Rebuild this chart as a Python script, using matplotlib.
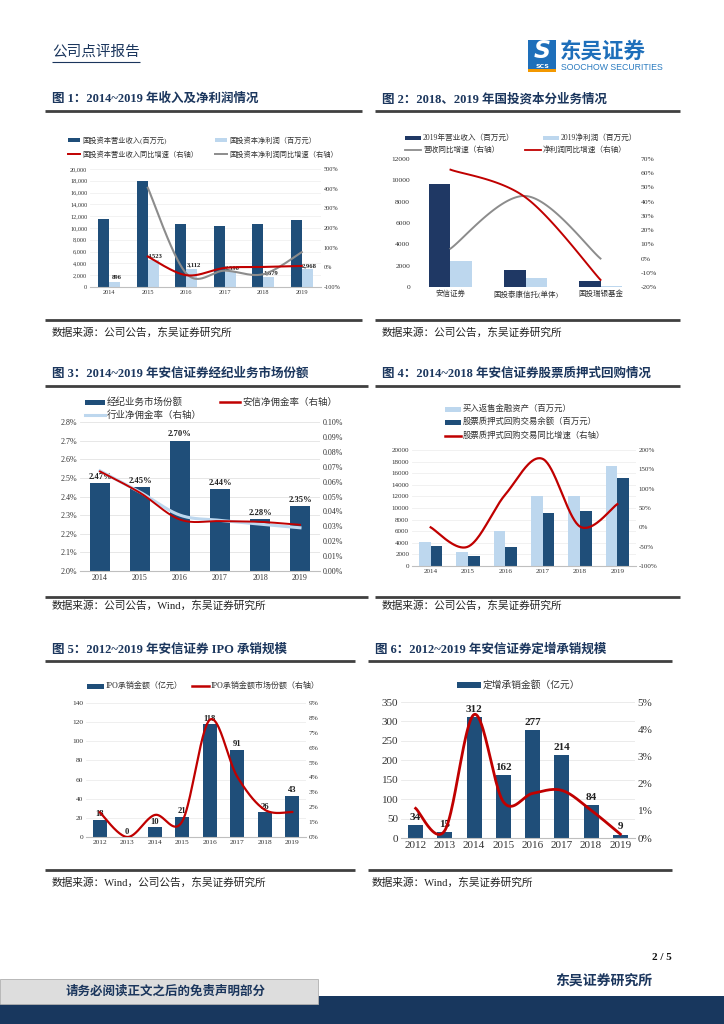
import numpy as np
import matplotlib
matplotlib.use("Agg")
import matplotlib.pyplot as plt
from matplotlib.patches import Rectangle
from matplotlib.lines import Line2D
from matplotlib.ticker import FuncFormatter

plt.rcParams['font.family'] = ['Liberation Serif', 'Noto Sans CJK SC', 'DejaVu Sans']
plt.rcParams['axes.unicode_minus'] = False

# ---------------- data ----------------
years_14_19 = ['2014', '2015', '2016', '2017', '2018', '2019']
years_12_19 = ['2012', '2013', '2014', '2015', '2016', '2017', '2018', '2019']

# Fig 1
rev1 = [11600, 17950, 10700, 10400, 10600, 11300]
np1 = [896, 4523, 3112, 2590, 1679, 2968]
rev1_growth = [None, 55, -40, -3, 2, 7]
np1_growth = [None, 405, -31, -17, -35, 77]

# Fig 2
cats2 = ['安信证券', '国投泰康信托(单体)', '国投瑞银基金']
rev2 = [9700, 1550, 580]
np2 = [2450, 850, 60]
rev2_growth = [7, 44, 0]
np2_growth = [62.5, 43, -15]

# Fig 3
share3 = [2.47, 2.45, 2.70, 2.44, 2.28, 2.35]
anxin_rate3 = [0.0668, 0.0525, 0.0345, 0.0335, 0.033, 0.031]
ind_rate3 = [0.0672, 0.0530, 0.0375, 0.0340, 0.0315, 0.029]

# Fig 4
resale4 = [4100, 2450, 6000, 12100, 12100, 17300]
pledge4 = [3500, 1800, 3300, 9100, 9400, 15100]
pledge4_growth = [0, -50, 85, 177, 2, 60]

# Fig 5
ipo5 = [18, 0, 10, 21, 118, 91, 26, 43]
ipo5_share = [1.66, 0.0, 1.48, 1.05, 7.87, 4.05, 1.83, 1.68]

# Fig 6
sp6 = [34, 15, 312, 162, 277, 214, 84, 9]
sp6_share = [1.09, 0.28, 4.54, 1.33, 1.64, 1.75, 1.02, 0.14]

# ---------------- style ----------------
W, H = 724, 1024
NAVY = '#1F4E79'
NAVY2 = '#1F3864'
LIGHT = '#BDD7EE'
RED = '#C00000'
GRAY = '#8C8C8C'
TXT = '#333333'
TITLE = '#1B365D'
CJK = ['Noto Sans CJK SC', 'DejaVu Sans']
SERIF = ['Liberation Serif', 'Noto Sans CJK SC']

fig = plt.figure(figsize=(W / 100, H / 100), dpi=100)


def fx(x):
    return x / W


def fy(y):
    return 1 - y / H


def px_axes(x0, y0, x1, y1):
    return fig.add_axes([fx(x0), fy(y1), (x1 - x0) / W, (y1 - y0) / H])


def ftext(x, y, s, **kw):
    kw.setdefault('va', 'center')
    return fig.text(fx(x), fy(y), s, **kw)


def hline(x0, x1, y, lw=2.0, color='#404040'):
    fig.add_artist(Line2D([fx(x0), fx(x1)], [fy(y), fy(y)], transform=fig.transFigure,
                          color=color, lw=lw, solid_capstyle='butt'))


def leg_patch(x, y, color, label, fs, w=14, h=5):
    fig.add_artist(Rectangle((fx(x), fy(y + h / 2)), w / W, h / H, transform=fig.transFigure,
                             facecolor=color, edgecolor='none'))
    ftext(x + w + 2, y, label, fontsize=fs, color=TXT, family=SERIF, ha='left')


def leg_line(x, y, color, label, fs, w=14, lw=1.8):
    fig.add_artist(Line2D([fx(x), fx(x + w)], [fy(y), fy(y)], transform=fig.transFigure,
                          color=color, lw=lw))
    ftext(x + w + 2, y, label, fontsize=fs, color=TXT, family=SERIF, ha='left')


def smooth(xs, ys, n=40):
    pts = [(x, y) for x, y in zip(xs, ys) if y is not None]
    P = np.array(pts, dtype=float)
    if len(P) < 3:
        return P[:, 0], P[:, 1]
    out_x, out_y = [], []
    t = np.linspace(0, 1, n)
    for i in range(len(P) - 1):
        p0 = P[i - 1] if i > 0 else P[i]
        p1 = P[i]
        p2 = P[i + 1]
        p3 = P[i + 2] if i + 2 < len(P) else P[i + 1]
        c1 = p1 + (p2 - p0) / 6
        c2 = p2 - (p3 - p1) / 6
        b = ((1 - t) ** 3)[:, None] * p1 + (3 * (1 - t) ** 2 * t)[:, None] * c1 + \
            (3 * (1 - t) * t ** 2)[:, None] * c2 + (t ** 3)[:, None] * p2
        out_x.extend(b[:, 0]); out_y.extend(b[:, 1])
    return np.array(out_x), np.array(out_y)


def style_axes(ax, fs, grid=True, gridcolor='#E6E6E6'):
    for s in ['top', 'right', 'left']:
        ax.spines[s].set_visible(False)
    ax.spines['bottom'].set_color('#BFBFBF')
    ax.spines['bottom'].set_linewidth(0.8)
    ax.tick_params(length=0, labelsize=fs, colors=TXT, pad=2)
    for lab in ax.get_xticklabels() + ax.get_yticklabels():
        lab.set_family(SERIF)
    if grid:
        ax.grid(axis='y', color=gridcolor, lw=0.6)
        ax.set_axisbelow(True)


def style_twin(ax2, fs):
    for s in ax2.spines.values():
        s.set_visible(False)
    ax2.tick_params(length=0, labelsize=fs, colors=TXT, pad=2)
    for lab in ax2.get_yticklabels():
        lab.set_family(SERIF)


# ---------------- header ----------------
ftext(52, 52, '公司点评报告', fontsize=10.5, color=TITLE, family=CJK, ha='left')
hline(52, 140, 62, lw=0.8, color=TITLE)
# logo
fig.add_artist(Rectangle((fx(528), fy(63)), 28 / W, 23 / H, transform=fig.transFigure,
                         facecolor='#1E6FBA', edgecolor='none'))
fig.add_artist(Rectangle((fx(528), fy(69)), 28 / W, 6 / H, transform=fig.transFigure,
                         facecolor='#1E6FBA', edgecolor='none'))
fig.add_artist(Rectangle((fx(528), fy(72)), 28 / W, 3 / H, transform=fig.transFigure,
                         facecolor='#F39800', edgecolor='none'))
ftext(542, 51, 'S', fontsize=17, color='white', weight='bold', style='italic',
      family=['DejaVu Sans'], ha='center')
ftext(542, 66, 'SCS', fontsize=4.5, color='white', weight='bold', family=['DejaVu Sans'], ha='center')
ftext(560, 51, '东吴证券', fontsize=15.5, color='#1E6FBA', weight='bold', family=CJK, ha='left')
ftext(561, 68, 'SOOCHOW SECURITIES', fontsize=6.3, color='#2A7BC0', family=['Liberation Sans'], ha='left')

# ---------------- titles / lines / sources ----------------
tkw = dict(fontsize=9, color=TITLE, weight='bold', ha='left')
ftext(52, 99, '图 1：2014~2019 年收入及净利润情况', **tkw)
ftext(382, 99, '图 2：2018、2019 年国投资本分业务情况', **tkw)
hline(45, 362, 111); hline(375, 680, 111)
hline(45, 362, 320); hline(375, 680, 320)
skw = dict(fontsize=7.7, color='#222222', ha='left')
ftext(52, 333, '数据来源：公司公告，东吴证券研究所', **skw)
ftext(382, 333, '数据来源：公司公告，东吴证券研究所', **skw)

ftext(52, 374, '图 3：2014~2019 年安信证券经纪业务市场份额', **tkw)
ftext(382, 374, '图 4：2014~2018 年安信证券股票质押式回购情况', **tkw)
hline(45, 368, 386); hline(375, 680, 386)
hline(45, 368, 597); hline(375, 680, 597)
ftext(52, 606, '数据来源：公司公告，Wind，东吴证券研究所', **skw)
ftext(382, 606, '数据来源：公司公告，东吴证券研究所', **skw)

ftext(52, 650, '图 5：2012~2019 年安信证券 IPO 承销规模', **tkw)
ftext(375, 650, '图 6：2012~2019 年安信证券定增承销规模', **tkw)
hline(45, 355, 661); hline(368, 672, 661)
hline(45, 355, 870); hline(368, 672, 870)
ftext(52, 883, '数据来源：Wind，公司公告，东吴证券研究所', **skw)
ftext(372, 883, '数据来源：Wind，东吴证券研究所', **skw)

# ---------------- footer ----------------
ftext(672, 958, '2 / 5', fontsize=8, weight='bold', color='#111111', ha='right')
ftext(652, 982, '东吴证券研究所', fontsize=10, weight='bold', color=TITLE, ha='right')
fig.add_artist(Rectangle((fx(318), fy(1024)), (W - 318) / W, 28 / H, transform=fig.transFigure,
                         facecolor='#18375E', edgecolor='none'))
fig.add_artist(Rectangle((0, fy(1024)), 318 / W, 20 / H, transform=fig.transFigure,
                         facecolor='#18375E', edgecolor='none'))
fig.add_artist(Rectangle((0, fy(1004)), 318 / W, 25 / H, transform=fig.transFigure,
                         facecolor='#DDDDDD', edgecolor='#B0B0B0', lw=0.6))
ftext(166, 992, '请务必阅读正文之后的免责声明部分', fontsize=9, weight='bold', color=TITLE, ha='center')

# ---------------- Fig 1 ----------------
ax = px_axes(90, 169, 321, 287)
x = np.arange(len(years_14_19))
bw = 0.29
ax.bar(x - bw / 2, rev1, bw, color=NAVY)
ax.bar(x + bw / 2, np1, bw, color=LIGHT)
ax.set_ylim(0, 20000)
ax.set_yticks(np.arange(0, 20001, 2000))
ax.yaxis.set_major_formatter(FuncFormatter(lambda v, p: f'{int(v):,}'))
ax.set_xlim(-0.5, len(x) - 0.5)
ax.set_xticks(x, years_14_19)
style_axes(ax, 4.5, gridcolor='#F0F0F0')
for xi, v in zip(x, np1):
    ax.text(xi + bw / 2 + 0.05, v + 300, f'{v:,}', fontsize=4.8, weight='bold', ha='center',
            va='bottom', color='#222222')
ax2 = ax.twinx()
ax2.set_ylim(-100, 500)
ax2.set_yticks(np.arange(-100, 501, 100))
ax2.yaxis.set_major_formatter(FuncFormatter(lambda v, p: f'{int(v)}%'))
sx, sy = smooth(x, np1_growth)
ax2.plot(sx, sy, color=GRAY, lw=1.5)
sx, sy = smooth(x, rev1_growth)
ax2.plot(sx, sy, color=RED, lw=1.5)
style_twin(ax2, 4.5)
leg_patch(68, 140, NAVY, '国投资本营业收入(百万元)', 5.2, w=12, h=4)
leg_patch(215, 140, LIGHT, '国投资本净利润（百万元）', 5.2, w=12, h=4)
leg_line(68, 154, RED, '国投资本营业收入同比增速（右轴）', 5.2, w=12, lw=1.4)
leg_line(215, 154, GRAY, '国投资本净利润同比增速（右轴）', 5.2, w=12, lw=1.4)

# ---------------- Fig 2 ----------------
ax = px_axes(413, 159, 638, 287)
x = np.arange(len(cats2))
bw = 0.29
ax.bar(x - bw / 2, rev2, bw, color=NAVY2)
ax.bar(x + bw / 2, np2, bw, color=LIGHT)
ax.set_ylim(0, 12000)
ax.set_yticks(np.arange(0, 12001, 2000))
ax.set_xlim(-0.5, len(x) - 0.5)
ax.set_xticks(x, cats2)
style_axes(ax, 5.4, grid=False)
ax.spines['bottom'].set_visible(False)
ax2 = ax.twinx()
ax2.set_ylim(-20, 70)
ax2.set_yticks(np.arange(-20, 71, 10))
ax2.yaxis.set_major_formatter(FuncFormatter(lambda v, p: f'{int(v)}%'))
sx, sy = smooth(x, rev2_growth)
ax2.plot(sx, sy, color=GRAY, lw=1.4)
sx, sy = smooth(x, np2_growth)
ax2.plot(sx, sy, color=RED, lw=1.4)
style_twin(ax2, 5.4)
leg_patch(405, 138, NAVY2, '2019年营业收入（百万元）', 5.5, w=16, h=4)
leg_patch(543, 138, LIGHT, '2019净利润（百万元）', 5.5, w=16, h=4)
leg_line(405, 150, GRAY, '营收同比增速（右轴）', 5.5, w=16, lw=1.3)
leg_line(525, 150, RED, '净利润同比增速（右轴）', 5.5, w=16, lw=1.3)

# ---------------- Fig 3 ----------------
ax = px_axes(80, 422, 320, 571)
x = np.arange(len(years_14_19))
ax.bar(x, share3, 0.48, color=NAVY)
ax.set_ylim(2.0, 2.8)
ax.set_yticks(np.arange(2.0, 2.801, 0.1))
ax.yaxis.set_major_formatter(FuncFormatter(lambda v, p: f'{v:.1f}%'))
ax.set_xlim(-0.5, len(x) - 0.5)
ax.set_xticks(x, years_14_19)
style_axes(ax, 5.8, gridcolor='#E3E3E3')
for xi, v in zip(x, share3):
    ax.text(xi, v + 0.012, f'{v:.2f}%', fontsize=6.2, weight='bold', ha='center', va='bottom',
            color='#222222')
ax2 = ax.twinx()
ax2.set_ylim(0, 0.10)
ax2.set_yticks(np.arange(0, 0.1001, 0.01))
ax2.yaxis.set_major_formatter(FuncFormatter(lambda v, p: f'{v:.2f}%'))
sx, sy = smooth(x, ind_rate3)
ax2.plot(sx, sy, color=LIGHT, lw=2.2)
sx, sy = smooth(x, anxin_rate3)
ax2.plot(sx, sy, color=RED, lw=1.4)
style_twin(ax2, 5.8)
leg_patch(85, 402, NAVY, '经纪业务市场份额', 6.8, w=20, h=5)
leg_line(220, 402, RED, '安信净佣金率（右轴）', 6.8, w=20, lw=1.8)
leg_line(85, 415, LIGHT, '行业净佣金率（右轴）', 6.8, w=20, lw=2.2)

# ---------------- Fig 4 ----------------
ax = px_axes(412, 450, 636, 566)
x = np.arange(len(years_14_19))
bw = 0.31
ax.bar(x - bw / 2, resale4, bw, color=LIGHT)
ax.bar(x + bw / 2, pledge4, bw, color=NAVY)
ax.set_ylim(0, 20000)
ax.set_yticks(np.arange(0, 20001, 2000))
ax.set_xlim(-0.5, len(x) - 0.5)
ax.set_xticks(x, years_14_19)
style_axes(ax, 5, gridcolor='#EFEFEF')
ax2 = ax.twinx()
ax2.set_ylim(-100, 200)
ax2.set_yticks(np.arange(-100, 201, 50))
ax2.yaxis.set_major_formatter(FuncFormatter(lambda v, p: f'{int(v)}%'))
sx, sy = smooth(x, pledge4_growth)
ax2.plot(sx, sy, color=RED, lw=1.6)
style_twin(ax2, 5)
leg_patch(445, 409, LIGHT, '买入返售金融资产（百万元）', 6, w=16, h=5)
leg_patch(445, 422, NAVY, '股票质押式回购交易余额（百万元）', 6, w=16, h=5)
leg_line(445, 436, RED, '股票质押式回购交易同比增速（右轴）', 6, w=16, lw=1.8)

# ---------------- Fig 5 ----------------
ax = px_axes(86, 703, 306, 837)
x = np.arange(len(years_12_19))
ax.bar(x, ipo5, 0.51, color=NAVY)
ax.set_ylim(0, 140)
ax.set_yticks(np.arange(0, 141, 20))
ax.set_xlim(-0.5, len(x) - 0.5)
ax.set_xticks(x, years_12_19)
style_axes(ax, 5.3, gridcolor='#EDEDED')
for xi, v in zip(x, ipo5):
    ax.text(xi, v + 1.5, f'{v}', fontsize=6.2, weight='bold', ha='center', va='bottom', color='#222222')
ax2 = ax.twinx()
ax2.set_ylim(0, 9)
ax2.set_yticks(np.arange(0, 9.01, 1))
ax2.yaxis.set_major_formatter(FuncFormatter(lambda v, p: f'{int(v)}%'))
sx, sy = smooth(x, ipo5_share)
ax2.plot(sx, sy, color=RED, lw=1.6)
style_twin(ax2, 5.3)
leg_patch(87, 686, NAVY, 'IPO承销金额（亿元）', 5.8, w=17, h=5)
leg_line(192, 686, RED, 'IPO承销金额市场份额（右轴）', 5.8, w=17, lw=1.8)

# ---------------- Fig 6 ----------------
ax = px_axes(401, 702, 635, 838)
x = np.arange(len(years_12_19))
ax.bar(x, sp6, 0.51, color=NAVY)
ax.set_ylim(0, 350)
ax.set_yticks(np.arange(0, 351, 50))
ax.set_xlim(-0.5, len(x) - 0.5)
ax.set_xticks(x, years_12_19)
style_axes(ax, 8, gridcolor='#E8E8E8')
for xi, v in zip(x, sp6):
    ax.text(xi, v + 8, f'{v}', fontsize=8, weight='bold', ha='center', va='bottom', color='#222222')
ax2 = ax.twinx()
ax2.set_ylim(0, 5)
ax2.set_yticks(np.arange(0, 5.01, 1))
ax2.yaxis.set_major_formatter(FuncFormatter(lambda v, p: f'{int(v)}%'))
sx, sy = smooth(x, sp6_share)
ax2.plot(sx, sy, color=RED, lw=2.0)
style_twin(ax2, 8)
leg_patch(457, 685, NAVY, '定增承销金额（亿元）', 7, w=24, h=6)

fig.savefig('out.png', dpi=100)
